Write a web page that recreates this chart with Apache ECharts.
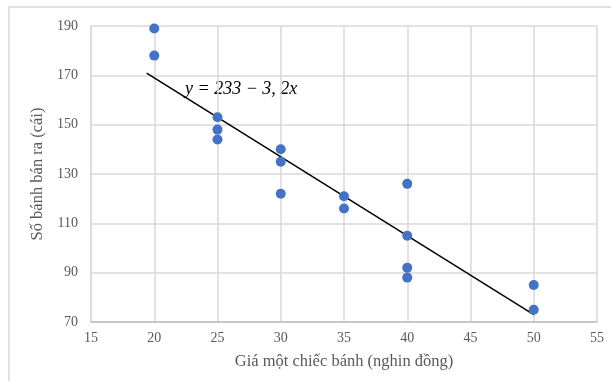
<!DOCTYPE html>
<html>
<head>
<meta charset="utf-8">
<script src="https://cdn.jsdelivr.net/npm/echarts@6/dist/echarts.min.js"></script>
<style>
  html, body { margin: 0; padding: 0; background: #fff; }
  #chart { width: 611px; height: 381px; }
</style>
</head>
<body>
<div id="chart"></div>
<script>
// giá bánh (nghìn đồng) và số bánh bán ra
const prices = [20, 20, 25, 25, 25, 30, 30, 30, 35, 35, 40, 40, 40, 40, 50, 50];
const sold = [189, 178, 153, 148, 144, 140, 135, 122, 121, 116, 126, 105, 92, 88, 85, 75];
// đường hồi quy y = 233 - 3,2x
const lineA = 233;
const lineB = -3.2;
const lineX = [19.4, 50];
const xTicks = [15, 55, 5];
const yTicks = [70, 190, 20];

const fontFam = '"Liberation Serif", "DejaVu Serif", serif';
const gray = '#595959';

const chart = echarts.init(document.getElementById('chart'));
chart.setOption({
  animation: false,
  grid: { left: 91, right: 14, top: 26, bottom: 59 },
  graphic: [
    {
      type: 'rect',
      shape: { x: 9, y: 7, width: 700, height: 500 },
      style: { fill: 'none', stroke: '#d9d9d9', lineWidth: 1.5 },
      z: -1
    },
    {
      type: 'text',
      left: 185,
      top: 80,
      style: {
        text: 'y = 233 − 3, 2x',
        font: 'italic 18px ' + fontFam,
        fill: '#000'
      }
    }
  ],
  xAxis: {
    type: 'value',
    min: xTicks[0],
    max: xTicks[1],
    interval: xTicks[2],
    name: 'Giá một chiếc bánh (nghin đồng)',
    nameLocation: 'middle',
    nameGap: 31,
    nameTextStyle: { color: gray, fontFamily: fontFam, fontSize: 16.5 },
    axisLine: { show: true, lineStyle: { color: '#bfbfbf', width: 1.5 } },
    axisTick: { show: false },
    axisLabel: { color: gray, fontFamily: fontFam, fontSize: 14, margin: 9 },
    splitLine: { show: true, lineStyle: { color: '#d9d9d9', width: 1.5 } }
  },
  yAxis: {
    type: 'value',
    min: yTicks[0],
    max: yTicks[1],
    interval: yTicks[2],
    name: 'Số bánh bán ra (cái)',
    nameLocation: 'middle',
    nameGap: 43,
    nameTextStyle: { color: gray, fontFamily: fontFam, fontSize: 16.5 },
    axisLine: { show: true, lineStyle: { color: '#d9d9d9', width: 1.5 } },
    axisTick: { show: false },
    axisLabel: { color: gray, fontFamily: fontFam, fontSize: 14, margin: 13 },
    splitLine: { show: true, lineStyle: { color: '#d9d9d9', width: 1.5 } }
  },
  series: [
    {
      type: 'line',
      data: lineX.map(x => [x, lineA + lineB * x]),
      showSymbol: false,
      lineStyle: { color: '#000', width: 1.5 },
      z: 2
    },
    {
      type: 'scatter',
      data: prices.map((p, i) => [p, sold[i]]),
      symbolSize: 10,
      itemStyle: { color: '#4472c4', opacity: 1 },
      z: 3
    }
  ]
});
</script>
</body>
</html>
